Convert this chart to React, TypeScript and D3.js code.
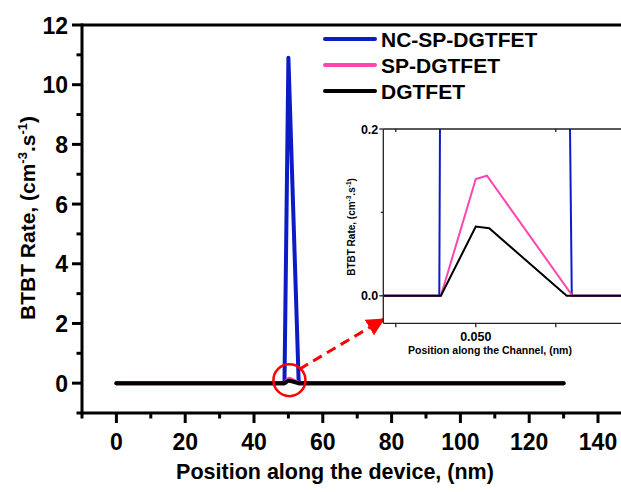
import React from "react";
import * as d3 from "d3";

// ---- data (x in nm, y in cm^-3.s^-1) ----
const ncX = [0, 48.86, 50, 53.0, 130];
const ncY = [0, 0, 10.9, 0, 0];
const spX = [0, 48.91, 50, 50.35, 53.02, 130];
const spY = [0, 0, 0.14, 0.144, 0, 0];
const dgX = [0, 48.91, 50, 50.42, 52.84, 130];
const dgY = [0, 0, 0.083, 0.081, 0, 0];

const seriesNames = ["NC-SP-DGTFET", "SP-DGTFET", "DGTFET"];
const seriesColors = ["#0c1cc4", "#ff45b0", "#000000"];

const xMajorTicks = [0, 20, 40, 60, 80, 100, 120, 140];
const xMinorTicks = [-10, 10, 30, 50, 70, 90, 110, 130, 150];
const yMajorTicks = [0, 2, 4, 6, 8, 10, 12];
const yMinorTicks = [-1, 1, 3, 5, 7, 9, 11];

const insetYTicks = [0, 0.2];
const insetYMinor = [0.1];
const insetXTicks = [50];
const insetXMinor = [47.5, 52.5];

const FONT = "'Liberation Sans', Arial, sans-serif";

export default function App() {
  const W = 621, H = 492;
  const x = d3.scaleLinear().domain([-10, 160]).range([82, 82 + 170 * 3.44]);
  const y = d3.scaleLinear().domain([-1, 12]).range([413, 25]);

  const xi = d3.scaleLinear().domain([47.11, 54.85]).range([383.3, 383.3 + 7.74 * 32]);
  const yi = d3.scaleLinear().domain([-0.033, 0.2]).range([323.3, 129]);

  const series = [
    { xs: ncX, ys: ncY },
    { xs: spX, ys: spY },
    { xs: dgX, ys: dgY },
  ];

  const mainLine = d3
    .line<number>()
    .x((d: any) => d[0])
    .y((d: any) => d[1]) as any;

  const pathFor = (s: { xs: number[]; ys: number[] }, sx: any, sy: any) =>
    mainLine(s.xs.map((v, i) => [sx(v), sy(s.ys[i])]));

  const x0 = x(-10), xEnd = W + 20;
  const yBot = y(-1), yTop = y(12);

  const insL = xi.range()[0], insR = xi.range()[1];
  const insT = yi(0.2), insB = yi(-0.033);

  // circle + arrow
  const cx = x(50.3), cy = y(0.1);
  const arrowStart = [cx + 10, cy - 11];
  const arrowTip = [insL, insB - 4];

  return (
    <div style={{ position: "fixed", left: 0, top: 0 }}>
      <svg width={W} height={H} style={{ display: "block", background: "#fff" }} fontFamily={FONT}>
        <defs>
          <clipPath id="insetClip">
            <rect x={insL} y={insT} width={insR - insL} height={insB - insT} />
          </clipPath>
          <marker id="arrowHead" viewBox="0 0 10 10" refX="9" refY="5" markerWidth="6" markerHeight="6" orient="auto" markerUnits="strokeWidth">
            <path d="M0,0 L10,5 L0,10 z" fill="#ff0000" />
          </marker>
        </defs>

        {/* main data */}
        {series.map((s, i) => (
          <path key={i} d={pathFor(s, x, y)} fill="none" stroke={seriesColors[i]} strokeWidth={4} strokeLinejoin="round" strokeLinecap="round" />
        ))}

        {/* main axes */}
        <line x1={x0} x2={xEnd} y1={yBot} y2={yBot} stroke="#000" strokeWidth={3} />
        <line x1={x0} x2={xEnd} y1={yTop} y2={yTop} stroke="#000" strokeWidth={3} />
        <line x1={x0} x2={x0} y1={yTop - 1.5} y2={yBot + 1.5} stroke="#000" strokeWidth={3} />
        {xMajorTicks.map((t) => (
          <g key={"xM" + t}>
            <line x1={x(t)} x2={x(t)} y1={yBot} y2={yBot + 10} stroke="#000" strokeWidth={3} />
            <text x={x(t)} y={yBot + 37} textAnchor="middle" fontSize={23} fontWeight="bold">{t}</text>
          </g>
        ))}
        {xMinorTicks.map((t) => (
          <line key={"xm" + t} x1={x(t)} x2={x(t)} y1={yBot} y2={yBot + 5.5} stroke="#000" strokeWidth={3} />
        ))}
        {yMajorTicks.map((t) => (
          <g key={"yM" + t}>
            <line x1={x0 - 10} x2={x0} y1={y(t)} y2={y(t)} stroke="#000" strokeWidth={3} />
            <text x={x0 - 14} y={y(t) + 8.5} textAnchor="end" fontSize={23} fontWeight="bold">{t}</text>
          </g>
        ))}
        {yMinorTicks.map((t) => (
          <line key={"ym" + t} x1={x0 - 5.5} x2={x0} y1={y(t)} y2={y(t)} stroke="#000" strokeWidth={3} />
        ))}

        <text x={335} y={479} textAnchor="middle" fontSize={21.5} fontWeight="bold">Position along the device, (nm)</text>
        <text transform={`translate(35,${218}) rotate(-90)`} textAnchor="middle" fontSize={21} fontWeight="bold">
          BTBT Rate, (cm<tspan fontSize={13} dy={-8}>-3</tspan><tspan dy={8}>.s</tspan><tspan fontSize={13} dy={-8}>-1</tspan><tspan dy={8}>)</tspan>
        </text>

        {/* legend */}
        {seriesNames.map((n, i) => (
          <g key={n}>
            <line x1={325} x2={375} y1={39 + i * 26} y2={39 + i * 26} stroke={seriesColors[i]} strokeWidth={4} strokeLinecap="round" />
            <text x={381} y={39 + i * 26 + 8} fontSize={21} fontWeight="bold">{n}</text>
          </g>
        ))}

        {/* red circle + arrow */}
        <circle cx={cx} cy={cy} r={16} fill="none" stroke="#ff0000" strokeWidth={2.5} />
        <line x1={arrowStart[0]} y1={arrowStart[1]} x2={arrowTip[0]} y2={arrowTip[1]} stroke="#ff0000" strokeWidth={3} strokeDasharray="10,6" markerEnd="url(#arrowHead)" />

        {/* inset */}
        <rect x={insL} y={insT} width={insR - insL} height={insB - insT} fill="#fff" />
        <g clipPath="url(#insetClip)">
          {series.map((s, i) => (
            <path key={i} d={pathFor(s, xi, yi)} fill="none" stroke={seriesColors[i]} strokeWidth={2} strokeLinejoin="miter" />
          ))}
        </g>
        <line x1={insL} x2={insR} y1={insT} y2={insT} stroke="#222" strokeWidth={1.3} />
        <line x1={insL} x2={insR} y1={insB} y2={insB} stroke="#222" strokeWidth={1.3} />
        <line x1={insL} x2={insL} y1={insT} y2={insB} stroke="#222" strokeWidth={1.3} />
        {insetYTicks.map((t) => (
          <g key={"iy" + t}>
            <line x1={insL - 4} x2={insL} y1={yi(t)} y2={yi(t)} stroke="#222" strokeWidth={1.3} />
            <text x={insL - 5} y={yi(t) + 4.5} textAnchor="end" fontSize={12.5} fontWeight="bold">{d3.format(".1f")(t)}</text>
          </g>
        ))}
        {insetYMinor.map((t) => (
          <line key={"iym" + t} x1={insL - 2.5} x2={insL} y1={yi(t)} y2={yi(t)} stroke="#222" strokeWidth={1.3} />
        ))}
        {insetXTicks.map((t) => (
          <g key={"ix" + t}>
            <line x1={xi(t)} x2={xi(t)} y1={insB} y2={insB + 4} stroke="#222" strokeWidth={1.3} />
            <text x={xi(t)} y={insB + 18} textAnchor="middle" fontSize={12.5} fontWeight="bold">{d3.format(".3f")(t / 1000)}</text>
          </g>
        ))}
        {insetXMinor.map((t) => (
          <g key={"ixm" + t}>
            <line x1={xi(t)} x2={xi(t)} y1={insB} y2={insB + 4} stroke="#222" strokeWidth={1.3} />
            <line x1={xi(t)} x2={xi(t)} y1={insT} y2={insT + 3} stroke="#222" strokeWidth={1.3} />
          </g>
        ))}
        <text x={490} y={354} textAnchor="middle" fontSize={10.5} fontWeight="bold">Position along the Channel, (nm)</text>
        <text transform={`translate(355,${227}) rotate(-90)`} textAnchor="middle" fontSize={10} fontWeight="bold">
          BTBT Rate, (cm<tspan fontSize={6.5} dy={-4}>-3</tspan><tspan dy={4}>.s</tspan><tspan fontSize={6.5} dy={-4}>-1</tspan><tspan dy={4}>)</tspan>
        </text>
      </svg>
    </div>
  );
}
